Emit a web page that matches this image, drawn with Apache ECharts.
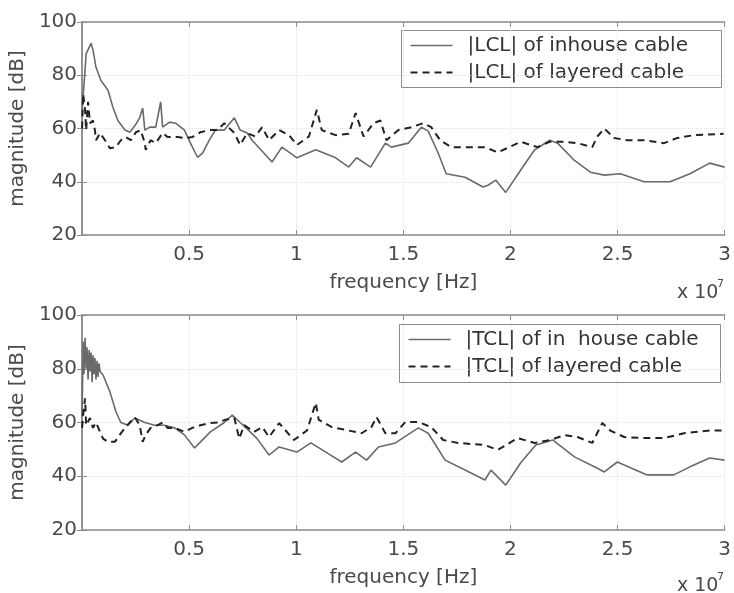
<!DOCTYPE html>
<html><head><meta charset="utf-8">
<script src="https://cdn.jsdelivr.net/npm/echarts@6/dist/echarts.min.js"></script>
<style>html,body{margin:0;padding:0;background:#fff}#c{width:734px;height:593px}</style>
</head><body><div id="c"></div>
<script>
// frequency in units of 1e7 Hz, magnitude in dB
const xTickLabels = ['', '0.5', '1', '1.5', '2', '2.5', '3'];
const yTickLabels = ['20', '40', '60', '80', '100'];
const legendTop = ['|LCL| of inhouse cable', '|LCL| of layered cable'];
const legendBottom = ['|TCL| of in  house cable', '|TCL| of layered cable'];

const lclInFreq = [0,0.005,0.019,0.042,0.051,0.065,0.088,0.121,0.144,0.167,0.200,0.223,0.246,0.269,0.283,0.293,0.316,0.344,0.367,0.376,0.409,0.437,0.478,0.506,0.539,0.562,0.594,0.622,0.664,0.711,0.738,0.771,0.794,0.887,0.933,1.003,1.091,1.184,1.245,1.282,1.347,1.416,1.444,1.523,1.584,1.616,1.663,1.700,1.788,1.872,1.895,1.932,1.978,2.048,2.113,2.183,2.220,2.299,2.373,2.438,2.513,2.624,2.745,2.838,2.930,3.000];
const lclInVal = [67,72,88,92,89.5,83,78,74.4,68,63,59.4,58.6,61,64,67.7,59.4,60.5,60.5,70,60.5,62.4,62,59.4,54.5,49.2,50.7,55.6,59.4,59.4,64,59.4,58.3,55.6,47.4,53,49,52,49,45.5,49,45.5,54.5,53,54.5,60.5,59,50.7,43,41.7,38,38.7,40.6,36,44.4,52,55.6,54.5,48,43.6,42.5,43,40,40,43,47,45.5];

const lclLayFreq = [0,0.005,0.014,0.019,0.028,0.037,0.051,0.060,0.065,0.084,0.107,0.130,0.158,0.181,0.204,0.228,0.251,0.274,0.293,0.297,0.320,0.344,0.376,0.399,0.446,0.478,0.515,0.553,0.594,0.632,0.664,0.711,0.738,0.771,0.808,0.841,0.873,0.920,0.966,1.003,1.059,1.096,1.119,1.184,1.245,1.277,1.314,1.361,1.393,1.421,1.477,1.537,1.593,1.630,1.672,1.723,1.816,1.881,1.941,2.048,2.127,2.183,2.252,2.313,2.382,2.406,2.438,2.485,2.545,2.624,2.717,2.777,2.856,2.995];
const lclLayVal = [60,73,67,59.4,70,62,63,59.4,55.6,58.3,55.6,52.6,53,55.6,56.8,55.6,58.6,59.4,54.5,52,55.6,54.5,58.3,56.8,56.8,56.4,56.8,58.6,59.4,59.4,62,58.3,53.8,58.3,57,60.5,55.6,59.4,57.5,53.8,57,67,59.4,57.5,58,65.8,57,62,63,55.6,59.4,60.5,62,60.5,55.6,53,53,53,51,55,53,55,55,54.5,53,57,60,56.4,55.6,55.6,54.5,56.4,57.5,58];

const tclInFreq = [0,0.005,0.009,0.014,0.019,0.023,0.028,0.033,0.037,0.042,0.047,0.051,0.056,0.060,0.065,0.070,0.074,0.079,0.084,0.098,0.130,0.158,0.181,0.214,0.246,0.293,0.339,0.385,0.432,0.478,0.525,0.553,0.599,0.664,0.701,0.738,0.785,0.817,0.873,0.920,1.003,1.068,1.138,1.212,1.277,1.328,1.384,1.463,1.570,1.616,1.695,1.788,1.881,1.909,1.978,2.048,2.118,2.197,2.299,2.406,2.438,2.499,2.638,2.763,2.838,2.930,3.000];
const tclInVal = [62,90,78,91.5,80,88,76,87,79,86,75,85,78,84,76,83,77,82,79,77.7,71.4,64,60,59,61.7,60,59,59,58,55.4,50.5,52.8,56.5,60,62.8,60,56.5,54,47.9,50.9,49,52.4,49,45.3,49,46,50.9,52.4,58,56,46,42.3,38.6,42.3,36.7,45,51.6,53.5,47.2,43,41.6,45.3,40.5,40.5,43.5,46.8,46];

const tclLayFreq = [0,0.005,0.014,0.019,0.037,0.051,0.065,0.084,0.098,0.121,0.153,0.176,0.200,0.223,0.246,0.269,0.283,0.297,0.320,0.353,0.376,0.399,0.432,0.478,0.515,0.553,0.594,0.632,0.669,0.711,0.734,0.757,0.803,0.841,0.873,0.920,0.989,1.050,1.091,1.105,1.166,1.245,1.305,1.351,1.375,1.416,1.463,1.509,1.570,1.630,1.686,1.755,1.881,1.941,2.034,2.113,2.187,2.252,2.313,2.382,2.429,2.466,2.531,2.624,2.717,2.810,2.930,2.995];
const tclLayVal = [58,62.8,69,59,61.7,58,60,56.5,54,52.8,52.8,55.4,58,60,62,59,52.8,55.4,58,59,60,58,58,56.5,58,59,59.8,60,61,61.7,54,59,56.5,58.3,54.6,59.8,53.5,57,67.3,61,58.3,57,56,58.3,62,56,56,60.2,60.2,58.3,53.5,52.4,51.6,49.8,54.2,52.4,53.5,55.3,54.6,52.4,59.8,57,54.6,54.2,54.2,56,57,57];

const pairs = (f, v) => f.map((x, i) => [x, v[i]]);
const FONT = 'DejaVu Sans';
const TXT = '#4a4a4a';
const AX = '#8c8c8c';
const solid = { color: '#6a6a6a', width: 1.6, type: 'solid' };
const dashed = { color: '#222', width: 2, type: [7, 5] };

function mainX(gi) {
  return {
    type: 'value', gridIndex: gi, min: 0, max: 3, interval: 0.5,
    axisLine: { show: true, lineStyle: { color: AX, width: 1.5 } },
    axisTick: { show: true, inside: true, length: 5, lineStyle: { color: AX } },
    axisLabel: { fontFamily: FONT, fontSize: 20, color: TXT, margin: 10,
      formatter: (v) => xTickLabels[Math.round(v / 0.5)] },
    splitLine: { show: true, lineStyle: { color: '#e4e4e4', type: 'dotted' } },
    name: 'frequency [Hz]', nameLocation: 'middle', nameGap: 38,
    nameTextStyle: { fontFamily: FONT, fontSize: 20, color: TXT }
  };
}
function boxX(gi) {
  return { type: 'value', gridIndex: gi, min: 0, max: 3, interval: 0.5, position: 'top',
    axisLine: { show: true, lineStyle: { color: AX, width: 1.5 } },
    axisTick: { show: true, inside: true, length: 5, lineStyle: { color: AX } },
    axisLabel: { show: false }, splitLine: { show: false } };
}
function mainY(gi) {
  return {
    type: 'value', gridIndex: gi, min: 20, max: 100, interval: 20,
    axisLine: { show: true, lineStyle: { color: AX, width: 1.5 } },
    axisTick: { show: true, inside: true, length: 5, lineStyle: { color: AX } },
    axisLabel: { fontFamily: FONT, fontSize: 20, color: TXT, margin: 5,
      formatter: (v) => yTickLabels[Math.round((v - 20) / 20)] },
    splitLine: { show: true, lineStyle: { color: '#e4e4e4', type: 'dotted' } },
    name: 'magnitude [dB]', nameLocation: 'middle', nameGap: 41, nameRotate: 90,
    nameTextStyle: { fontFamily: FONT, fontSize: 20, color: TXT }
  };
}
function boxY(gi) {
  return { type: 'value', gridIndex: gi, min: 20, max: 100, interval: 20, position: 'right',
    axisLine: { show: true, lineStyle: { color: AX, width: 1.5 } },
    axisTick: { show: true, inside: true, length: 5, lineStyle: { color: AX } },
    axisLabel: { show: false }, splitLine: { show: false } };
}
// legend box drawn as graphic group: box at (x,y) size (w,h)
function legendBox(names, x, y, w, h) {
  const r1 = 15, r2 = 42;
  const lineX0 = 9, lineX1 = 51, textX = 66;
  return {
    type: 'group', left: x, top: y, z: 100,
    children: [
      { type: 'rect', shape: { x: 0, y: 0, width: w, height: h }, style: { fill: '#fff', stroke: AX, lineWidth: 1 } },
      { type: 'line', shape: { x1: lineX0, y1: r1, x2: lineX1, y2: r1 }, style: { stroke: solid.color, lineWidth: solid.width } },
      { type: 'line', shape: { x1: lineX0, y1: r2, x2: lineX1, y2: r2 }, style: { stroke: dashed.color, lineWidth: dashed.width, lineDash: [7, 5] } },
      { type: 'text', x: textX, y: r1, style: { text: names[0], font: '20px "DejaVu Sans"', fill: '#333', textVerticalAlign: 'middle', verticalAlign: 'middle' } },
      { type: 'text', x: textX, y: r2, style: { text: names[1], font: '20px "DejaVu Sans"', fill: '#333', textVerticalAlign: 'middle', verticalAlign: 'middle' } }
    ]
  };
}

const chart = echarts.init(document.getElementById('c'), null, { renderer: 'canvas' });
chart.setOption({
  animation: false,
  backgroundColor: '#fff',
  grid: [
    { left: 82, top: 22, width: 646, height: 213 },
    { left: 82, top: 315, width: 646, height: 215 }
  ],
  xAxis: [mainX(0), boxX(0), mainX(1), boxX(1)],
  yAxis: [mainY(0), boxY(0), mainY(1), boxY(1)],
  graphic: [
    legendBox(legendTop, 401, 30, 320, 57),
    legendBox(legendBottom, 399, 324, 321, 58),
    { type: 'text', left: 677, top: 284, style: { text: 'x 10', font: '19px "DejaVu Sans"', fill: TXT } },
    { type: 'text', left: 717, top: 279, style: { text: '7', font: '11px "DejaVu Sans"', fill: TXT } },
    { type: 'text', left: 677, top: 577, style: { text: 'x 10', font: '19px "DejaVu Sans"', fill: TXT } },
    { type: 'text', left: 717, top: 572, style: { text: '7', font: '11px "DejaVu Sans"', fill: TXT } }
  ],
  series: [
    { name: legendTop[0], type: 'line', xAxisIndex: 0, yAxisIndex: 0, data: pairs(lclInFreq, lclInVal), showSymbol: false, symbol: 'none', lineStyle: solid },
    { name: legendTop[1], type: 'line', xAxisIndex: 0, yAxisIndex: 0, data: pairs(lclLayFreq, lclLayVal), showSymbol: false, symbol: 'none', lineStyle: dashed },
    { name: legendBottom[0], type: 'line', xAxisIndex: 2, yAxisIndex: 2, data: pairs(tclInFreq, tclInVal), showSymbol: false, symbol: 'none', lineStyle: solid },
    { name: legendBottom[1], type: 'line', xAxisIndex: 2, yAxisIndex: 2, data: pairs(tclLayFreq, tclLayVal), showSymbol: false, symbol: 'none', lineStyle: dashed }
  ]
});
</script></body></html>
